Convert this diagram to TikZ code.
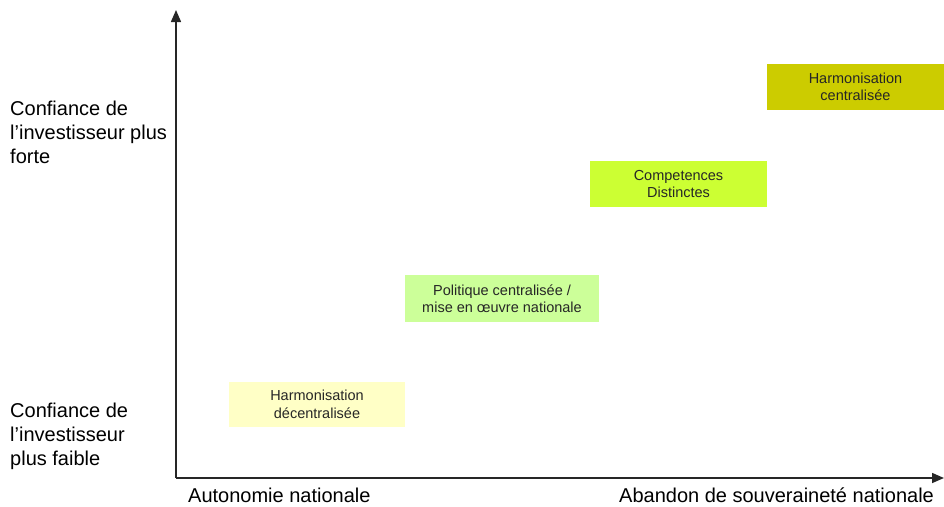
\documentclass[tikz,border=0pt]{standalone}
\usepackage{fontspec}
\setmainfont{Liberation Sans}
\usetikzlibrary{arrows.meta}
\definecolor{jaunepale}{HTML}{FFFFC6}
\definecolor{vertclair}{HTML}{CCFF99}
\definecolor{vertvif}{HTML}{CCFF33}
\definecolor{olive}{HTML}{CCCC00}
\begin{document}
\begin{tikzpicture}[x=1pt, y=-1pt,
		axe/.style={draw=black!85, line width=1.5pt, -{Triangle[length=12pt, width=10pt]}},
		boite/.style={inner sep=0pt, minimum width=177pt, minimum height=46pt, align=center,
			text=black!85, font=\fontsize{14.5}{17.5}\selectfont},
		legende/.style={inner sep=0pt, align=left, font=\fontsize{20}{24}\selectfont}]
		\useasboundingbox (0, 0) rectangle (944, 506);

		% axes
		\coordinate (origine) at (176, 478);
		\coordinate (haut) at (176, 10);
		\coordinate (droite) at (944, 478);
		\draw[axe]	(origine) to (haut);
		\draw[axe]	(origine) to (droite);

		% cases
		\node[boite, fill=jaunepale, minimum width=176pt, minimum height=45pt] (decentr) at (317, 404.5) {Harmonisation\\décentralisée};
		\node[boite, fill=vertclair, minimum width=194pt, minimum height=47pt] (politique) at (502, 298.5) {Politique centralisée /\\mise en œuvre nationale};
		\node[boite, fill=vertvif] (competences) at (678.5, 184) {Competences\\Distinctes};
		\node[boite, fill=olive] (centr) at (855.5, 87) {Harmonisation\\centralisée};

		% textes des axes
		\node[legende, anchor=north west] (forte) at (10, 101) {Confiance de\\l’investisseur plus\\forte};
		\node[legende, anchor=north west] (faible) at (10, 403) {Confiance de\\l’investisseur\\plus faible};
		\node[legende, anchor=base west] (autonomie) at (188, 502) {Autonomie nationale};
		\node[legende, anchor=base west] (abandon) at (619, 502) {Abandon de souveraineté nationale};
	\end{tikzpicture}
\end{document}
